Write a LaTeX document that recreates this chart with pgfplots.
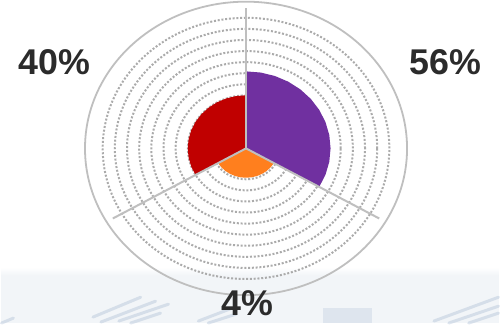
\documentclass[border=0pt]{standalone}
\usepackage{pgfplots}
\pgfplotsset{compat=1.18}
\usepackage{fontspec}
\setmainfont{Liberation Sans}
\definecolor{cpurple}{HTML}{7030A0}
\definecolor{cred}{HTML}{C00000}
\definecolor{corange}{HTML}{FF7F1E}
\definecolor{cgrid}{HTML}{BFBFBF}
\definecolor{cdot}{HTML}{ABABAB}
\definecolor{ctext}{HTML}{2B2B2B}
\definecolor{cband}{HTML}{F2F5F8}
\definecolor{cstreak}{HTML}{6F8DB5}
\begin{document}
\begin{tikzpicture}
% background
\fill[white] (0,0) rectangle (500bp,325bp);
\fill[cband] (0,0) rectangle (500bp,48bp);
\shade[top color=white, bottom color=cband] (0,48bp) rectangle (500bp,56bp);
\begin{scope}[cstreak, opacity=0.22, line width=3bp, line cap=round]
\draw (92bp,6bp) -- (140bp,26bp);
\draw (100bp,1bp) -- (155bp,22bp);
\draw (118bp,2bp) -- (168bp,19bp);
\draw (130bp,0bp) -- (160bp,10bp);
\draw (198bp,2bp) -- (232bp,15bp);
\draw (208bp,0bp) -- (236bp,9bp);
\draw (435bp,2bp) -- (500bp,26bp);
\draw (450bp,0bp) -- (500bp,17bp);
\draw (470bp,0bp) -- (500bp,10bp);
\draw (0bp,0bp) -- (12bp,5bp);
\end{scope}
\fill[cstreak, opacity=0.15] (323bp,0bp) rectangle (373bp,15bp);
\begin{axis}[
  at={(0,0)}, anchor=south west,
  scale only axis, width=500bp, height=325bp,
  xmin=-1.5185, xmax=1.5679, ymin=-1.1904, ymax=1.0115,
  hide axis, clip=false,
]
% dotted rings
\pgfplotsinvokeforeach{0.89,0.8145,0.739,0.6635,0.588,0.5125,0.437,0.3615,0.286,0.2105,0.135,0.0595}{
  \draw[cdot, line width=2bp, dash pattern=on 2bp off 1.8bp] (axis cs:0,0) ellipse [x radius=#1*162bp, y radius=#1*147.6bp];
}
% sectors
\addplot[fill=cpurple, draw=none, data cs=polar] coordinates {
 (0,0) (90,0.525) (80,0.525) (70,0.525) (60,0.525) (50,0.525) (40,0.525) (30,0.525)
 (20,0.525) (10,0.525) (0,0.525) (-10,0.525) (-20,0.525) (-30,0.525)} -- cycle;
\addplot[fill=cred, draw=none, data cs=polar] coordinates {
 (0,0) (90,0.362) (100,0.362) (110,0.362) (120,0.362) (130,0.362) (140,0.362) (150,0.362)
 (160,0.362) (170,0.362) (180,0.362) (190,0.362) (200,0.362) (210,0.362)} -- cycle;
\addplot[fill=corange, draw=none, data cs=polar] coordinates {
 (0,0) (210,0.2) (220,0.2) (230,0.2) (240,0.2) (250,0.2) (260,0.2) (270,0.2)
 (280,0.2) (290,0.2) (300,0.2) (310,0.2) (320,0.2) (330,0.2)} -- cycle;
% spokes
\addplot[cgrid, line width=2bp, data cs=polar] coordinates {(0,0) (90,0.955)};
\addplot[cgrid, line width=2bp, data cs=polar] coordinates {(0,0) (210,0.955)};
\addplot[cgrid, line width=2bp, data cs=polar] coordinates {(0,0) (330,0.955)};
% outer ring
\draw[cgrid, line width=1.8bp] (axis cs:0,0) ellipse [x radius=162bp, y radius=147.6bp];
\end{axis}
% labels
\begin{scope}[every node/.style={inner sep=0pt, text=ctext, font=\fontsize{36bp}{40bp}\selectfont\bfseries}]
\node at (53bp,262bp) {40\%};
\node at (446.7bp,262.5bp) {56\%};
\node at (247.5bp,20bp) {4\%};
\end{scope}
\end{tikzpicture}
\end{document}
